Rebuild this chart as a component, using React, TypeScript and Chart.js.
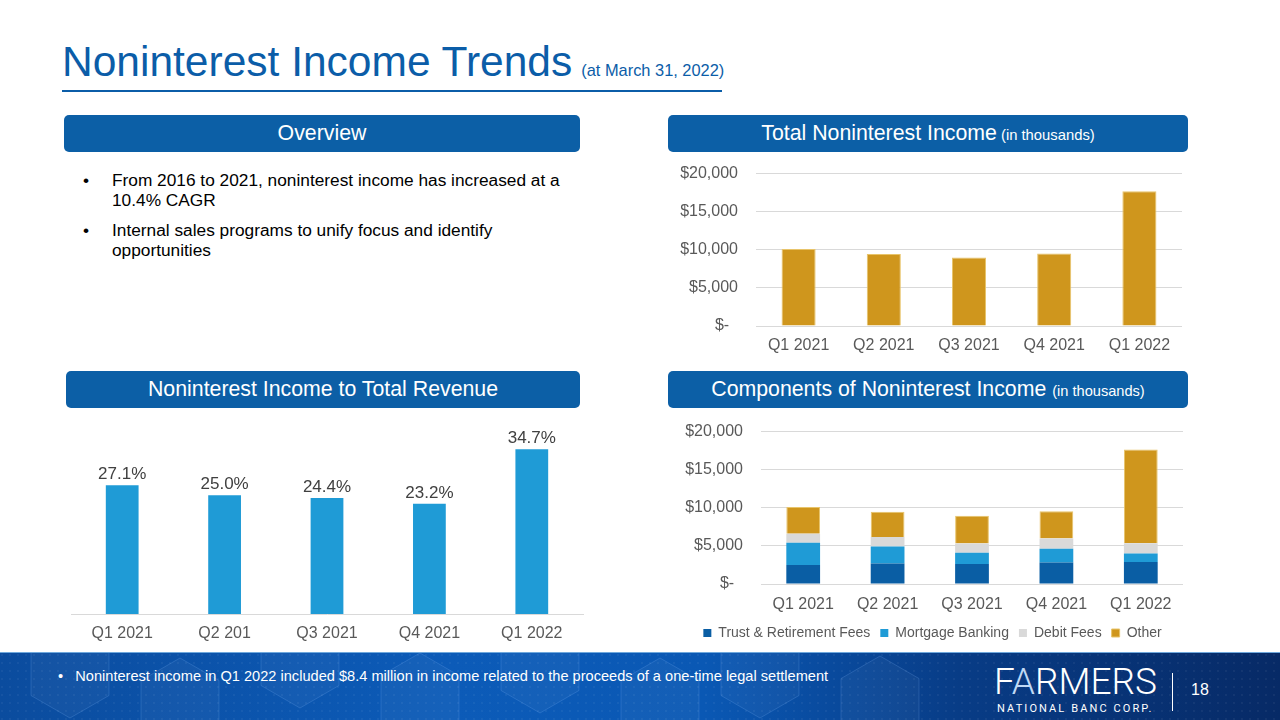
import React, { useEffect, useRef } from 'react';
import { Chart, registerables } from 'chart.js';

Chart.register(...registerables);

// ---------- data ----------
const quarters = ['Q1 2021', 'Q2 2021', 'Q3 2021', 'Q4 2021', 'Q1 2022'];
const ratioQuarters = ['Q1 2021', 'Q2 201', 'Q3 2021', 'Q4 2021', 'Q1 2022'];
const totalIncome = [10110, 9460, 8980, 9500, 17700];
const ratioPct = [27.1, 25.0, 24.4, 23.2, 34.7];
const trustFees = [2480, 2700, 2610, 2830, 2880];
const mortgageBanking = [2920, 2220, 1480, 1790, 1130];
const debitFees = [1180, 1260, 1220, 1350, 1350];
const otherIncome = [3530, 3310, 3660, 3570, 12300];
const seriesNames = ['Trust & Retirement Fees', 'Mortgage Banking', 'Debit Fees', 'Other'];
const dollarMax = 20000;
const dollarStep = 5000;
const ratioMax = 40;

// ---------- styles ----------
const FONT = "'Liberation Sans', Arial, sans-serif";
const BLUE = '#0C5FA6';
const GOLD = '#CF961D';
const LIGHT_BLUE = '#1F9BD6';
const DARK_BLUE = '#0A5EA4';
const GREY = '#D9D9D9';
const TICK = '#595959';

const dollarLabel = (v: number) => (v === 0 ? '$-  ' : '$' + Number(v).toLocaleString('en-US'));

function ChartBox(props: { left: number; top: number; width: number; height: number; make: () => any }) {
  const ref = useRef<HTMLCanvasElement | null>(null);
  useEffect(() => {
    const chart = new Chart(ref.current as HTMLCanvasElement, props.make());
    return () => chart.destroy();
  }, []);
  return (
    <div style={{ position: 'absolute', left: props.left, top: props.top, width: props.width, height: props.height }}>
      <canvas ref={ref} width={props.width} height={props.height} />
    </div>
  );
}

const dollarY = (width: number) => ({
  min: 0,
  max: dollarMax,
  ticks: { stepSize: dollarStep, padding: 18, color: TICK, font: { family: FONT, size: 16 }, callback: (v: any) => dollarLabel(v) },
  grid: { color: GREY, lineWidth: 1, drawTicks: false },
  border: { display: false },
  afterFit: (s: any) => { s.width = width; },
});

const catX = (height: number, pad = 10) => ({
  grid: { display: false, drawTicks: false },
  border: { display: false },
  ticks: { padding: pad, color: TICK, font: { family: FONT, size: 16 }, maxRotation: 0 },
  afterFit: (s: any) => { s.height = height; },
});

const valueLabels = {
  id: 'valueLabels',
  afterDatasetsDraw(chart: any) {
    const ctx = chart.ctx;
    const meta = chart.getDatasetMeta(0);
    ctx.save();
    ctx.font = `17px ${FONT}`;
    ctx.fillStyle = '#404040';
    ctx.textAlign = 'center';
    ctx.textBaseline = 'alphabetic';
    meta.data.forEach((el: any, i: number) => {
      const v = chart.data.datasets[0].data[i];
      ctx.fillText(Number(v).toFixed(1) + '%', el.x, el.y - 6);
    });
    ctx.restore();
  },
};

const makeTotal = () => ({
  type: 'bar',
  data: {
    labels: quarters,
    datasets: [{ label: 'Total Noninterest Income', data: totalIncome, backgroundColor: GOLD, borderColor: '#E8C46A', borderWidth: 1, barPercentage: 0.4, categoryPercentage: 1 }],
  },
  options: {
    responsive: false,
    animation: false,
    layout: { padding: { top: 12, right: 6, left: 0, bottom: 0 } },
    plugins: { legend: { display: false }, tooltip: { enabled: false } },
    scales: { x: catX(34), y: dollarY(88) },
  },
});

const makeComponents = () => ({
  type: 'bar',
  data: {
    labels: quarters,
    datasets: [
      { label: seriesNames[0], data: trustFees, backgroundColor: DARK_BLUE },
      { label: seriesNames[1], data: mortgageBanking, backgroundColor: LIGHT_BLUE },
      { label: seriesNames[2], data: debitFees, backgroundColor: GREY },
      { label: seriesNames[3], data: otherIncome, backgroundColor: GOLD, borderColor: '#E8C46A', borderWidth: 1 },
    ].map((d) => ({ ...d, barPercentage: 0.4, categoryPercentage: 1 })),
  },
  options: {
    responsive: false,
    animation: false,
    layout: { padding: { top: 14, right: 10, left: 14, bottom: 0 } },
    plugins: {
      legend: {
        display: true,
        position: 'bottom',
        labels: { boxWidth: 8, boxHeight: 8, padding: 10, color: TICK, font: { family: FONT, size: 14 } },
      },
      tooltip: { enabled: false },
    },
    scales: {
      x: { ...catX(32, 11), stacked: true },
      y: { ...dollarY(79), stacked: true },
    },
  },
});

const makeRatio = () => ({
  type: 'bar',
  data: {
    labels: ratioQuarters,
    datasets: [{ label: 'Noninterest Income to Total Revenue', data: ratioPct, backgroundColor: LIGHT_BLUE, barPercentage: 0.32, categoryPercentage: 1 }],
  },
  options: {
    responsive: false,
    animation: false,
    layout: { padding: { top: 9, right: 7, left: 11, bottom: 0 } },
    plugins: { legend: { display: false }, tooltip: { enabled: false } },
    scales: {
      x: { ...catX(36), border: { display: true, color: GREY, width: 1 } },
      y: { display: false, min: 0, max: ratioMax },
    },
  },
  plugins: [valueLabels],
});

function Header(props: { left: number; top: number; width: number; children: any }) {
  return (
    <div
      style={{
        position: 'absolute', left: props.left, top: props.top, width: props.width, height: 37,
        background: BLUE, borderRadius: 5, color: '#fff', display: 'flex', alignItems: 'center',
        justifyContent: 'center', fontFamily: FONT, fontSize: 21.3, whiteSpace: 'nowrap',
      }}
    >
      <span>{props.children}</span>
    </div>
  );
}

function Hexes() {
  const hexes: any[] = [];
  const pts = [[70, 20], [180, 50], [300, 10], [420, 45], [540, 15], [660, 50], [760, 20], [880, 48]];
  pts.forEach(([cx, cy], i) => {
    const r = 45;
    const p = [0, 1, 2, 3, 4, 5].map((k) => {
      const a = (Math.PI / 3) * k + Math.PI / 6;
      return `${cx + r * Math.cos(a)},${cy + r * Math.sin(a)}`;
    }).join(' ');
    hexes.push(<polygon key={i} points={p} fill="rgba(255,255,255,0.04)" stroke="rgba(140,190,255,0.2)" strokeWidth={1} />);
  });
  return (
    <svg width={1280} height={68} style={{ position: 'absolute', left: 0, top: 0 }}>
      <defs>
        <pattern id="dots" width="8" height="8" patternUnits="userSpaceOnUse">
          <circle cx="2" cy="2" r="0.8" fill="rgba(255,255,255,0.10)" />
        </pattern>
      </defs>
      {hexes}
      <rect x={0} y={0} width={1280} height={68} fill="url(#dots)" />
    </svg>
  );
}

export default function App() {
  useEffect(() => {
    document.body.style.margin = '0';
  }, []);
  const bullet = { position: 'absolute' as const, fontFamily: FONT, fontSize: 17.3, color: '#000', lineHeight: '20px' };
  return (
    <div style={{ position: 'fixed', left: 0, top: 0, width: 1280, height: 720, background: '#fff', overflow: 'hidden' }}>
      {/* Title */}
      <div style={{ position: 'absolute', left: 62, top: 38, fontFamily: FONT, color: '#0B5DA8', whiteSpace: 'nowrap' }}>
        <span style={{ fontSize: 42.5 }}>Noninterest Income Trends</span>
        <span style={{ fontSize: 16.4, marginLeft: 9 }}>(at March 31, 2022)</span>
      </div>
      <div style={{ position: 'absolute', left: 62, top: 90, width: 660, height: 2, background: '#0B5DA8' }} />

      {/* Headers */}
      <Header left={64} top={115} width={516}>Overview</Header>
      <Header left={668} top={115} width={520}>
        Total Noninterest Income<span style={{ fontSize: 14.8 }}> (in thousands)</span>
      </Header>
      <Header left={66} top={371} width={514}>Noninterest Income to Total Revenue</Header>
      <Header left={668} top={371} width={520}>
        Components of Noninterest Income <span style={{ fontSize: 14.6 }}>(in thousands)</span>
      </Header>

      {/* Overview bullets */}
      <div style={{ ...bullet, left: 83, top: 170 }}>•</div>
      <div style={{ ...bullet, left: 112, top: 170 }}>From 2016 to 2021, noninterest income has increased at a<br />10.4% CAGR</div>
      <div style={{ ...bullet, left: 83, top: 220 }}>•</div>
      <div style={{ ...bullet, left: 112, top: 220 }}>Internal sales programs to unify focus and identify<br />opportunities</div>

      {/* Charts */}
      <ChartBox left={668} top={146} width={520} height={214} make={makeTotal} />
      <ChartBox left={668} top={404} width={525} height={246} make={makeComponents} />
      <ChartBox left={60} top={415} width={530} height={235} make={makeRatio} />

      {/* Footer */}
      <div
        style={{
          position: 'absolute', left: 0, top: 652, width: 1280, height: 68,
          background: 'linear-gradient(90deg, #0B4C9E 0%, #0C5BB8 35%, #0A58B4 55%, #083C86 75%, #072A66 100%)',
          borderTop: '1px solid #6FA8DC', overflow: 'hidden',
        }}
      >
        <Hexes />
        <div style={{ position: 'absolute', left: 58, top: 15, color: '#fff', fontFamily: FONT, fontSize: 14.6, whiteSpace: 'nowrap' }}>
          •&nbsp;&nbsp;&nbsp;Noninterest income in Q1 2022 included $8.4 million in income related to the proceeds of a one-time legal settlement
        </div>
        <div style={{ position: 'absolute', left: 994, top: 10, color: '#fff', fontFamily: 'Roboto, ' + FONT, fontWeight: 300, fontSize: 37, lineHeight: '37px', letterSpacing: 0, whiteSpace: 'nowrap' }}>
          F<span style={{ color: '#BFD8F5' }}>A</span>RMERS
        </div>
        <div style={{ position: 'absolute', left: 997, top: 49, color: '#fff', fontFamily: 'Roboto, ' + FONT, fontSize: 11, letterSpacing: 2.1, whiteSpace: 'nowrap' }}>
          NATIONAL BANC CORP.
        </div>
        <div style={{ position: 'absolute', left: 1172, top: 20, width: 1, height: 38, background: '#fff' }} />
        <div style={{ position: 'absolute', left: 1191, top: 28, color: '#fff', fontFamily: FONT, fontSize: 16 }}>18</div>
      </div>
    </div>
  );
}
